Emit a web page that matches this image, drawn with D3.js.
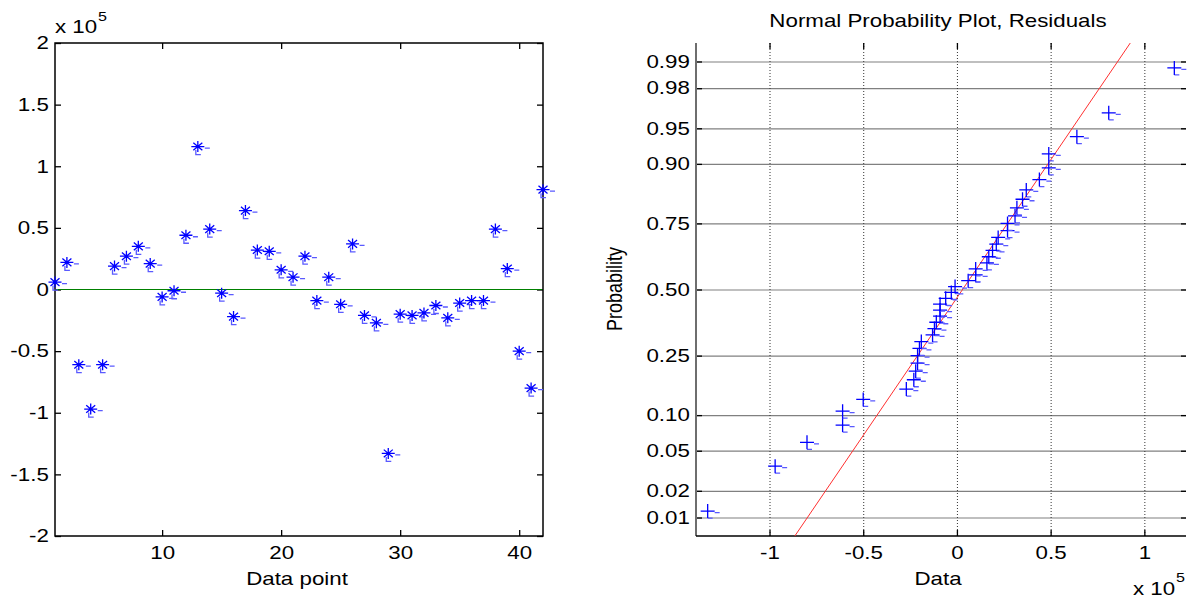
<!DOCTYPE html>
<html lang="en">
<head>
<meta charset="UTF-8">
<title>Residuals and Normal Probability Plot</title>
<script src="https://d3js.org/d3.v7.min.js"></script>
<style>
  body { margin: 0; background: #fff; }
  svg text { font-family: "Liberation Sans", Arial, sans-serif; font-size: 18px; fill: #000; }
  .tick line { stroke: #000; stroke-width: 1.3; }
  .hgrid line { stroke: #808080; stroke-width: 1.2; }
  .vgrid line { stroke: #333; stroke-width: 1; stroke-dasharray: 1,2; }
</style>
</head>
<body>
<svg id="chart" width="1192" height="601"></svg>
<script>
// residuals, in units of 1e5, one per data point
const residuals = [0.06, 0.22, -0.61, -0.97, -0.61, 0.19, 0.27, 0.35, 0.21, -0.06,
                   -0.01, 0.44, 1.16, 0.49, -0.03, -0.22, 0.64, 0.32, 0.31, 0.16,
                   0.10, 0.27, -0.09, 0.10, -0.12, 0.37, -0.21, -0.27, -1.33, -0.20,
                   -0.21, -0.19, -0.13, -0.23, -0.11, -0.09, -0.09, 0.49, 0.17, -0.50,
                   -0.80, 0.81];
const pointIndex = d3.range(1, residuals.length + 1);

const leftXTicks = [10, 20, 30, 40];
const leftYTicks = [-2, -1.5, -1, -0.5, 0, 0.5, 1, 1.5, 2];
const probTicks = [0.01, 0.02, 0.05, 0.10, 0.25, 0.50, 0.75, 0.90, 0.95, 0.98, 0.99];
const probLabels = ["0.01", "0.02", "0.05", "0.10", "0.25", "0.50", "0.75", "0.90", "0.95", "0.98", "0.99"];
const dataTicks = [-1, -0.5, 0, 0.5, 1];

const SX = 1.24; // the picture is a bit wider than tall

// inverse normal cdf (Acklam)
function norminv(p) {
  const a = [-39.69683028665376, 220.9460984245205, -275.9285104469687, 138.3577518672690, -30.66479806614716, 2.506628277459239];
  const b = [-54.47609879822406, 161.5858368580409, -155.6989798598866, 66.80131188771972, -13.28068155288572];
  const c = [-0.007784894002430293, -0.3223964580411365, -2.400758277161838, -2.549732539343734, 4.374664141464968, 2.938163982698783];
  const d = [0.007784695709041462, 0.3224671290700398, 2.445134137142996, 3.754408661907416];
  const lo = 0.02425;
  if (p < lo || p > 1 - lo) {
    const q = Math.sqrt(-2 * Math.log(p < lo ? p : 1 - p));
    const v = (((((c[0]*q+c[1])*q+c[2])*q+c[3])*q+c[4])*q+c[5]) / ((((d[0]*q+d[1])*q+d[2])*q+d[3])*q+1);
    return p < lo ? v : -v;
  }
  const q = p - 0.5, r = q * q;
  return (((((a[0]*r+a[1])*r+a[2])*r+a[3])*r+a[4])*r+a[5])*q / (((((b[0]*r+b[1])*r+b[2])*r+b[3])*r+b[4])*r+1);
}

const svg = d3.select("#chart");

function label(x, y, str, anchor, extra) {
  return svg.append("text")
    .attr("transform", `translate(${x},${y}) ${extra || `scale(${SX},1)`}`)
    .attr("text-anchor", anchor)
    .text(str);
}
function stretchTicks(g) {
  g.select(".domain").remove();
  g.selectAll(".tick text").attr("transform", `scale(${SX},1)`);
}

const starPath = "M-6.5,0H6.5M0,-5.5V5.5M-4.5,-3.8L4.5,3.8M-4.5,3.8L4.5,-3.8";
const plusPath = "M-7,0H7M0,-7V7";
const ghostStar = "M7,1.5H12M-2,3.5V8H3";
const ghostPlus = "M7,1.5H12M0,7H5";

// ---------------- left: residuals vs data point ----------------
const L = { x0: 55, x1: 543, y0: 43, y1: 536 };
const xL = d3.scaleLinear().domain([1, 42]).range([L.x0, L.x1]);
const yL = d3.scaleLinear().domain([-2, 2]).range([L.y1, L.y0]);

svg.append("g").attr("transform", `translate(0,${L.y1})`)
  .call(d3.axisBottom(xL).tickValues(leftXTicks).tickSize(-6).tickPadding(10).tickFormat(d3.format("d")))
  .call(stretchTicks);
svg.append("g").attr("transform", `translate(0,${L.y0})`)
  .call(d3.axisTop(xL).tickValues(leftXTicks).tickSize(-6).tickFormat(""))
  .call(stretchTicks);
svg.append("g").attr("transform", `translate(${L.x0},0)`)
  .call(d3.axisLeft(yL).tickValues(leftYTicks).tickSize(-6).tickPadding(5).tickFormat(d => d))
  .call(stretchTicks);
svg.append("g").attr("transform", `translate(${L.x1},0)`)
  .call(d3.axisRight(yL).tickValues(leftYTicks).tickSize(-6).tickFormat(""))
  .call(stretchTicks);

svg.append("line")
  .attr("x1", xL(1)).attr("x2", xL(42)).attr("y1", yL(0)).attr("y2", yL(0))
  .attr("stroke", "#008000").attr("stroke-width", 1.2);

svg.append("rect")
  .attr("x", L.x0).attr("y", L.y0).attr("width", L.x1 - L.x0).attr("height", L.y1 - L.y0)
  .attr("fill", "none").attr("stroke", "#000").attr("stroke-width", 1.5);

const stars = svg.append("g").selectAll("g").data(residuals).join("g")
  .attr("transform", (d, i) => `translate(${xL(pointIndex[i])},${yL(d)})`);
stars.append("path").attr("d", ghostStar).attr("stroke", "#5a5aff").attr("stroke-width", 1.3).attr("fill", "none");
stars.append("path").attr("d", starPath).attr("stroke", "#0000ff").attr("stroke-width", 1.3).attr("fill", "none");

label(L.x0, 33, "x 10", "start");
label(98, 21, "5", "start", `scale(${SX * 0.72},0.72)`);
label(297, 585, "Data point", "middle");

// ---------------- right: normal probability plot ----------------
const R = { x0: 696, x1: 1186, y0: 43, y1: 536 };
const n = residuals.length;
const sorted = residuals.slice().sort(d3.ascending);
const zPos = sorted.map((d, i) => norminv((i + 0.5) / n));
const lo = d3.min(sorted), hi = d3.max(sorted), span = hi - lo;
const xR = d3.scaleLinear().domain([lo - 0.025 * span, hi + 0.025 * span]).range([R.x0, R.x1]);
const zLim = norminv(1 - 0.25 / n);
const yR = d3.scaleLinear().domain([-zLim, zLim]).range([R.y1, R.y0]);
const probZ = probTicks.map(norminv);

svg.append("g").attr("class", "hgrid").attr("transform", `translate(${R.x0},0)`)
  .call(d3.axisLeft(yR).tickValues(probZ).tickSize(-(R.x1 - R.x0)).tickFormat(""))
  .call(g => g.select(".domain").remove());
svg.append("g").attr("class", "vgrid").attr("transform", `translate(0,${R.y1})`)
  .call(d3.axisBottom(xR).tickValues(dataTicks).tickSize(-(R.y1 - R.y0)).tickFormat(""))
  .call(g => g.select(".domain").remove());

svg.append("g").attr("transform", `translate(0,${R.y1})`)
  .call(d3.axisBottom(xR).tickValues(dataTicks).tickSize(-6).tickPadding(10).tickFormat(d => d))
  .call(stretchTicks);
svg.append("g").attr("transform", `translate(0,${R.y0})`)
  .call(d3.axisTop(xR).tickValues(dataTicks).tickSize(-6).tickFormat(""))
  .call(stretchTicks);
svg.append("g").attr("transform", `translate(${R.x0},0)`)
  .call(d3.axisLeft(yR).tickValues(probZ).tickSize(-6).tickPadding(5).tickFormat((d, i) => probLabels[i]))
  .call(stretchTicks);
svg.append("g").attr("transform", `translate(${R.x1},0)`)
  .call(d3.axisRight(yR).tickValues(probZ).tickSize(-5).tickFormat(""))
  .call(stretchTicks);

svg.append("line").attr("x1", R.x0).attr("x2", R.x0).attr("y1", R.y0).attr("y2", R.y1)
  .attr("stroke", "#6e6e6e").attr("stroke-width", 2);
svg.append("line").attr("x1", R.x0).attr("x2", R.x1).attr("y1", R.y1).attr("y2", R.y1)
  .attr("stroke", "#000").attr("stroke-width", 1.5);

// reference line through the quartiles
function prctile(arr, p) {
  const pos = arr.length * p + 0.5, k = Math.floor(pos), f = pos - k;
  return arr[k - 1] + f * ((arr[k] ?? arr[k - 1]) - arr[k - 1]);
}
const q1 = prctile(sorted, 0.25), q3 = prctile(sorted, 0.75);
const z1 = norminv(0.25), z3 = norminv(0.75);
const slope = (q3 - q1) / (z3 - z1);
const refZ = yR.domain();
svg.append("path")
  .datum(refZ)
  .attr("d", d3.line().x(z => xR(q1 + (z - z1) * slope)).y(z => yR(z)))
  .attr("stroke", "#ff3030").attr("stroke-width", 1).attr("fill", "none");

const crosses = svg.append("g").selectAll("g").data(sorted).join("g")
  .attr("transform", (d, i) => `translate(${xR(d)},${yR(zPos[i])})`);
crosses.append("path").attr("d", ghostPlus).attr("stroke", "#5a5aff").attr("stroke-width", 1.3).attr("fill", "none");
crosses.append("path").attr("d", plusPath).attr("stroke", "#0000ff").attr("stroke-width", 1.3).attr("fill", "none");

label(938, 27, "Normal Probability Plot, Residuals", "middle");
label(938, 585, "Data", "middle");
label(622, 289, "Probability", "middle", `rotate(-90) scale(1,${SX})`);
label(1133, 595, "x 10", "start");
label(1176, 582, "5", "start", `scale(${SX * 0.72},0.72)`);
</script>
</body>
</html>
